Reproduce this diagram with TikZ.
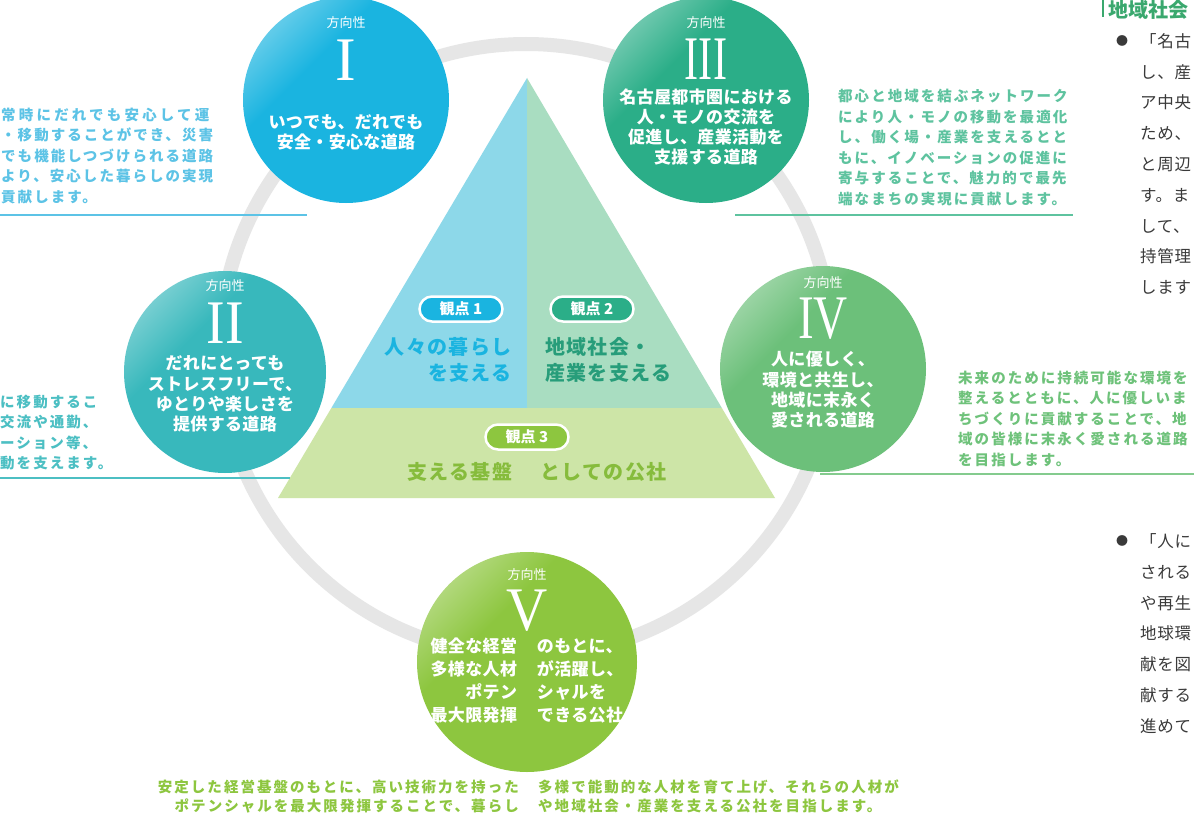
\documentclass[tikz,border=0pt]{standalone}
\usepackage{fontspec}
\usepackage{graphicx}
\usetikzlibrary{calc}
\setmainfont{Liberation Serif}
\newfontfamily\jp{Noto Sans CJK JP}
\newfontfamily\jpsp[LetterSpace=14]{Noto Sans CJK JP}
\newfontfamily\jpspw[LetterSpace=22]{Noto Sans CJK JP}
\newfontfamily\jpcirc[LetterSpace=2]{Noto Sans CJK JP}
\newfontfamily\jptri[LetterSpace=7]{Noto Sans CJK JP}
\newfontfamily\jpcol[LetterSpace=4]{Noto Sans CJK JP}
\newfontfamily\romfont{Liberation Serif}
\definecolor{cI}{HTML}{1AB4E0}
\definecolor{cII}{HTML}{38B8BC}
\definecolor{cIII}{HTML}{2BAE88}
\definecolor{cIV}{HTML}{6CC07A}
\definecolor{cV}{HTML}{8DC63F}
\definecolor{dI}{HTML}{5CC3E6}
\definecolor{dII}{HTML}{4CBFC3}
\definecolor{dIII}{HTML}{5EC39F}
\definecolor{dIV}{HTML}{6EC27A}
\definecolor{dV}{HTML}{8DC63F}
\definecolor{tL}{HTML}{8DD8E9}
\definecolor{tR}{HTML}{A9DDC1}
\definecolor{tB}{HTML}{CDE5A7}
\definecolor{ringc}{HTML}{E6E6E6}
\definecolor{txt}{HTML}{3A3A3A}
\definecolor{headc}{HTML}{3AA86E}
\colorlet{basec}{cI}
\pgfdeclarehorizontalshading[basec]{sheen}{100bp}{color(0bp)=(basec!30!white); color(15bp)=(basec!45!white); color(38bp)=(basec); color(100bp)=(basec)}
\tikzset{
  dirc/.style={circle, inner sep=0pt, minimum size=206pt, /utils/exec={\colorlet{basec}{#1}}, shade, shading=sheen, shading angle=-45},
  roman/.style={font=\romfont\fontsize{62}{62}\selectfont, text=white, inner sep=0pt},
  hoko/.style={font=\jp\fontsize{13}{13}\selectfont, text=white, inner sep=0pt},
  ctext/.style={font=\jpcirc\bfseries\fontsize{17}{20.3}\selectfont, text=white, align=center, inner sep=0pt},
  desc/.style={font=\jpsp\bfseries\fontsize{14.5}{20.5}\selectfont, align=left, inner sep=0pt},
  pill/.style={rounded corners=12.5pt, minimum width=83pt, minimum height=25pt, draw=white, line width=2.5pt, text=white, font=\jp\bfseries\fontsize{15}{15}\selectfont, inner sep=0pt},
  tlabel/.style={font=\jptri\bfseries\fontsize{20}{26}\selectfont, inner sep=0pt},
  col/.style={font=\jpcol\fontsize{16.5}{30.8}\selectfont, text=txt, align=left, inner sep=0pt},
  bul/.style={font=\jp\fontsize{12}{12}\selectfont, text=txt, inner sep=0pt},
  sepline/.style={line width=1.3pt},
}
\begin{document}
\begin{tikzpicture}[x=1pt,y=-1pt]
\useasboundingbox[fill=white] (0,0) rectangle (1194,816);
% ring
\draw[ringc, line width=14pt] (526,350) circle[radius=306pt];
% triangle
\coordinate (A) at (527,78);
\coordinate (BL) at (278,498);
\coordinate (BR) at (775,498);
\coordinate (M) at (527,408);
\coordinate (L) at ($(A)!0.7857!(BL)$);
\coordinate (R) at ($(A)!0.7857!(BR)$);
\fill[tL] (A) -- (M) -- (L) -- cycle;
\fill[tR] (A) -- (R) -- (M) -- cycle;
\fill[tB] (L) -- (R) -- (BR) -- (BL) -- cycle;
% pills and labels
\node[pill, fill=cI] (p1) at (461,309) {観点 1};
\node[pill, fill=cIII] (p2) at (592,309) {観点 2};
\node[pill, fill=cV] (p3) at (527,437) {観点 3};
\node[tlabel, text=cI, align=right, anchor=east] (l1) at (512,360) {人々の暮らし\\を支える};
\node[tlabel, text=cIII!90!black, align=left, anchor=west] (l2) at (545,360) {地域社会・\\産業を支える};
\node[tlabel, text=cV!95!black] (l3) at (537,472) {支える基盤\hspace{28pt}としての公社};
% separator lines
\draw[sepline, dI] (0,215) -- (307,215);
\draw[sepline, dIII] (735,215) -- (1073,215);
\draw[sepline, dII] (0,478) -- (290,478);
\draw[sepline, dIV!85!white] (820,474) -- (1194,474);
% circles
\node[dirc=cI] (c1) at (346,100) {};
\node[dirc=cIII] (c3) at (706,100) {};
\node[dirc=cII, minimum size=202pt] (c2) at (225,372) {};
\node[dirc=cIV] (c4) at (823,369) {};
\node[dirc=cV, minimum size=220pt] (c5) at (527,662) {};
% circle I
\node[hoko] (h1) at (346,23) {方向性};
\node[roman] (r1) at (346,60) {I};
\node[ctext] (t1) at (346,132.5) {いつでも、だれでも\\安全・安心な道路};
% circle III
\node[hoko] (h3) at (706,23) {方向性};
\node[roman] (r3) at (706,59) {\scalebox{0.68}[1]{III}};
\node[ctext] (t3) at (706,127) {名古屋都市圏における\\人・モノの交流を\\促進し、産業活動を\\支援する道路};
% circle II
\node[hoko] (h2) at (225,286) {方向性};
\node[roman] (r2) at (225,323) {\scalebox{0.9}[1]{II}};
\node[ctext] (t2) at (225,394) {だれにとっても\\ストレスフリーで、\\ゆとりや楽しさを\\提供する道路};
% circle IV
\node[hoko] (h4) at (823,283) {方向性};
\node[roman] (r4) at (823,319) {\scalebox{0.76}[1]{IV}};
\node[ctext] (t4) at (823,390) {人に優しく、\\環境と共生し、\\地域に末永く\\愛される道路};
% circle V
\node[hoko] (h5) at (527,575) {方向性};
\node[roman] (r5) at (527,611) {\scalebox{0.92}[1]{V}};
\node[ctext, font=\jpcirc\bfseries\fontsize{17}{22.8}\selectfont] (t5) at (527,682.5) {\begin{tabular}{@{}r@{\hspace{20pt}}l@{}}健全な経営&のもとに、\\多様な人材&が活躍し、\\ポテン&シャルを\\最大限発揮&できる公社\end{tabular}};
% descriptions
\node[desc, text=dI, anchor=west] (d1) at (1,156) {{\jpspw 常時にだれでも安心して運}\\・移動することができ、災害\\でも機能しつづけられる道路\\より、安心した暮らしの実現\\貢献します。};
\node[desc, text=dIII, anchor=west] (d3) at (838,147.5) {都心と地域を結ぶネットワーク\\により人・モノの移動を最適化\\し、働く場・産業を支えるとと\\もに、イノベーションの促進に\\寄与することで、魅力的で最先\\端なまちの実現に貢献します。};
\node[desc, text=dII, anchor=west] (d2) at (0,432.5) {に移動するこ\\交流や通勤、\\ーション等、\\動を支えます。};
\node[desc, text=dIV, anchor=west] (d4) at (958,418.5) {未来のために持続可能な環境を\\整えるとともに、人に優しいま\\ちづくりに貢献することで、地\\域の皆様に末永く愛される道路\\を目指します。};
\node[desc, text=dV, align=right, anchor=east, font=\jpsp\bfseries\fontsize{14.5}{19}\selectfont] (d5a) at (519,796.5) {安定した経営基盤のもとに、高い技術力を持った\\ポテンシャルを最大限発揮することで、暮らし};
\node[desc, text=dV, anchor=west, font=\jpsp\bfseries\fontsize{14.5}{19}\selectfont] (d5b) at (538,796.5) {多様で能動的な人材を育て上げ、それらの人材が\\や地域社会・産業を支える公社を目指します。};
% right column
\draw[headc, line width=1.2pt] (1103,0) -- (1103,17);
\node[font=\jp\bfseries\fontsize{20}{20}\selectfont, text=headc, anchor=west, inner sep=0pt] (hd) at (1108,10) {地域社会};
\node[bul] (b1) at (1122,41) {●};
\node[col, anchor=west] (k1) at (1140,164) {「名古\\し、産\\ア中央\\ため、\\と周辺\\す。ま\\して、\\持管理\\します};
\node[bul] (b2) at (1122,541) {●};
\node[col, anchor=west] (k2) at (1140,633.5) {「人に\\される\\や再生\\地球環\\献を図\\献する\\進めて};
\end{tikzpicture}
\end{document}
